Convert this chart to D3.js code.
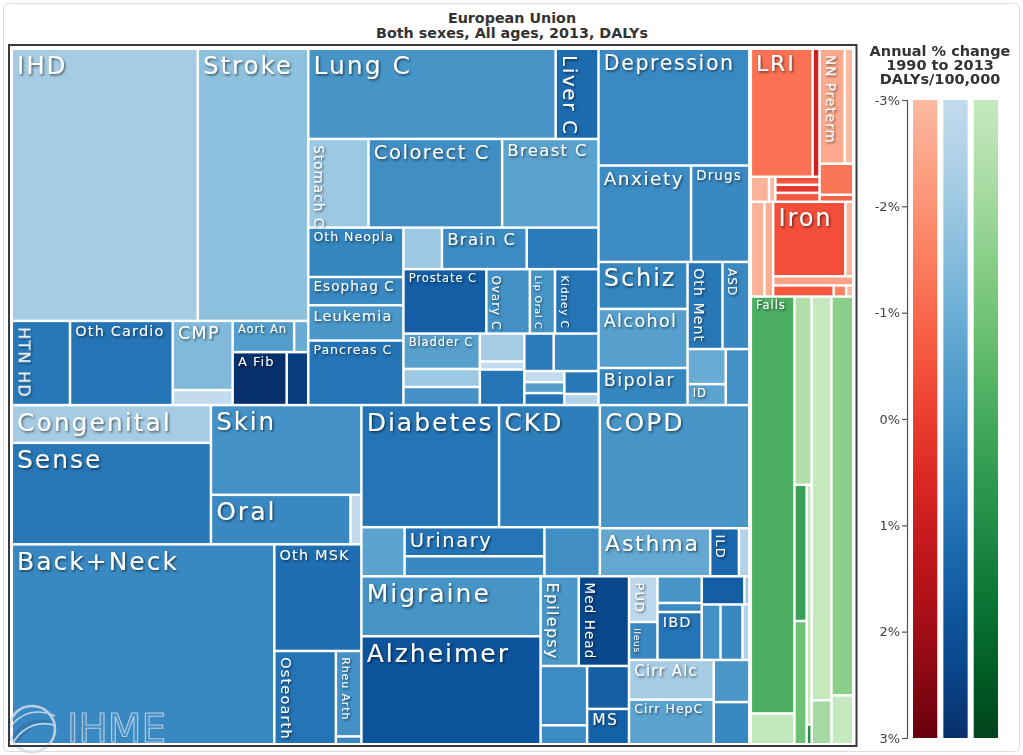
<!DOCTYPE html>
<html><head><meta charset="utf-8">
<script src="https://cdn.jsdelivr.net/npm/d3@7"></script>
<style>
html,body{margin:0;padding:0;background:#fff;}
svg{display:block;font-family:"DejaVu Sans",Verdana,sans-serif;}
</style></head><body>
<svg id="chart" width="1023" height="755"></svg>
<script>
// ---------------- DATA ----------------
// Non-communicable diseases (blue)
const ncdCauses = ["IHD","Stroke","HTN HD","Oth Cardio","CMP","Endocarditis","Aort An","Rheum HD","A Fib","PAD",
"Lung C","Liver C","Stomach C","Colorect C","Breast C","Oth Neopla","Esophag C","Leukemia","Pancreas C","Hodgkin","Brain C","NHL","Prostate C","Ovary C","Lip Oral C","Kidney C","Bladder C","Larynx C","Myeloma","Cervical C","Testic C","Uterine C","Melanoma","Thyroid C","Nasophar C","Gallbl C","Mesothel","Oth Phar C","NMSC",
"Depression","Anxiety","Drugs","Schiz","Alcohol","Bipolar","Oth Ment","ASD","Eating","ID","Conduct",
"Congenital","Sense","Skin","Oral","Oth NCD","Back+Neck","Oth MSK","Osteoarth","Rheu Arth","Gout",
"Diabetes","CKD","Gyne","Urinary","Endocrine","Hemog","COPD","Asthma","ILD","Pneumocon",
"Migraine","Alzheimer","Epilepsy","Med Head","Tension HA","Parkinson","Oth Neuro","MS",
"PUD","Ileus","Gallbladder","Pancreatitis","IBD","Oth Digest","Appendicitis","Hernia","Vasc Intest","Oth GI","Cirr Alc","Cirr HepC","Cirr HepB","Cirr Oth"];
const ncdDalys = [2530,1502,245,432,207,45,96,22,143,57,
1115,193,267,592,427,235,134,168,307,80,176,149,267,140,81,140,135,69,69,62,18,79,55,84,22,22,24,39,19,
880,446,281,209,263,165,152,117,67,40,66,
376,1010,675,345,27,2623,464,287,109,10,
840,615,106,203,140,136,920,265,69,25,
537,967,171,225,138,44,90,74,
65,54,59,20,106,60,7,52,61,19,168,189,75,75];
const ncdChange = [-2.2,-1.7,0.8,0.9,-1.4,-3,-0.4,-0.9,3.0,2.6,
-0.1,1.2,-2.0,0.1,-0.6,0.4,0.3,-0.2,0.9,-2.0,0.2,0.7,1.6,0.0,-0.1,0.9,-0.5,-2.0,0.0,-2.2,-3,0.9,0.7,0.3,-3,-0.4,0.9,0.8,-2.5,
0.25,0.2,0.3,0.4,-0.5,0.4,0.8,0.3,-0.9,-0.6,0.0,
-2.2,0.8,0.0,0.3,-3,0.3,1.1,0.9,0.0,0.3,
0.9,0.6,-0.6,0.9,0.3,0.1,-0.1,-0.8,1.3,-2.5,
-0.1,1.9,-0.2,2.3,0.2,0.2,1.6,1.5,
-2.8,0.3,-0.1,0.2,0.9,1.6,-2.0,0.0,0.3,-2.5,-2.2,-0.6,-0.2,0.3];

// Communicable, maternal, neonatal, nutritional (red)
const commCauses = ["LRI","Diarrhea","TB","HIV","Meningitis","Hepatitis","URI","NN Preterm","NN Enceph","NN Sepsis","Oth NN","Mat Hem","Oth Mat","Iron","Oth Nutr","PEM","STD","Otitis","Measles"];
const commDalys  = [400,45,23,8,18,18,20,146,50,53,12,65,42,272,30,37,34,7,4];
const commChange = [-1.2,0.8,-2.8,-3,-0.5,0.2,-0.6,-2.6,-3,-1.3,-0.9,-2.8,-2.7,-0.4,-2.9,-2.4,-0.6,-1.6,-3];

// Injuries (green)
const injCauses = ["Falls","Drowning","Poisoning","Mech Force","Oth Unint","Fire","Disaster","Road Inj","Violence","Self Harm","Exposure"];
const injDalys  = [920,68,164,84,76,61,5,404,44,440,54];
const injChange = [-0.15,-2.9,-2.4,0.3,-0.9,-3,0.9,-3,-2.1,-1.5,-3];

const legendTicks = [-3,-2,-1,0,1,2,3];
const legendFamilies = ["comm","ncd","inj"];
const titleLines = ["European Union","Both sexes, All ages, 2013, DALYs"];
const legendTitle = ["Annual % change","1990 to 2013","DALYs/100,000"];

// ---------------- NESTING (grouping of causes, sliced/diced alternately) ----------------
const nesting = [
  [
    [
      [ ["IHD","Stroke"], ["HTN HD","Oth Cardio",["CMP","Endocarditis"],[["Aort An","Rheum HD"],["A Fib","PAD"]]] ],
      [ ["Lung C","Liver C"], ["Stomach C","Colorect C","Breast C"],
        [ ["Oth Neopla","Esophag C","Leukemia","Pancreas C"],
          [ ["Hodgkin","Brain C","NHL"], ["Prostate C","Ovary C","Lip Oral C","Kidney C"],
            [ ["Bladder C","Larynx C","Myeloma"], ["Cervical C","Testic C","Uterine C"],
              [ ["Melanoma","Thyroid C"], [ ["Nasophar C","Gallbl C","Mesothel"], ["Oth Phar C","NMSC"] ] ] ] ] ] ],
      [ "Depression", ["Anxiety","Drugs"], [ ["Schiz","Alcohol","Bipolar"], [ ["Oth Ment","ASD"], [ ["Eating","ID"], "Conduct" ] ] ] ]
    ],
    [
      [ [ ["Congenital","Sense"], ["Skin", ["Oral","Oth NCD"]] ],
        [ "Back+Neck", ["Oth MSK", ["Osteoarth", ["Rheu Arth","Gout"]]] ] ],
      [ [ [ ["Diabetes","CKD"], ["Gyne", ["Urinary","Endocrine"], "Hemog"] ], [ "COPD", ["Asthma","ILD","Pneumocon"] ] ],
        [ ["Migraine","Alzheimer"], [ ["Epilepsy","Med Head"], [ ["Tension HA","Parkinson"], ["Oth Neuro","MS"] ] ],
          [ [ ["PUD","Ileus"], ["Gallbladder","Pancreatitis","IBD"], [ ["Oth Digest","Appendicitis"], ["Hernia","Vasc Intest","Oth GI"] ] ],
            [ ["Cirr Alc","Cirr HepC"], ["Cirr HepB","Cirr Oth"] ] ] ] ]
    ]
  ],
  [
    [ [ ["LRI","Diarrhea"], ["TB","HIV",["Meningitis","Hepatitis","URI"]] ], [ ["NN Preterm","NN Enceph"], "NN Sepsis", "Oth NN" ] ],
    [ "Mat Hem", "Oth Mat", [ ["Iron","Oth Nutr"], "PEM", ["STD","Otitis","Measles"] ] ],
    [ ["Falls","Drowning"], ["Poisoning", [ ["Mech Force","Oth Unint"], ["Fire","Disaster"] ] ], ["Road Inj","Violence"], ["Self Harm","Exposure"] ]
  ]
];

// ---------------- LABEL STYLE ----------------
const labelSize = {
  "IHD":24.5,"Stroke":24.5,"HTN HD":16,"Oth Cardio":14.5,"CMP":17.5,"Aort An":11.5,"A Fib":13,
  "Lung C":25,"Liver C":20,"Stomach C":13.5,"Colorect C":19.5,"Breast C":16.5,"Oth Neopla":12.5,"Brain C":16.5,
  "Esophag C":13.5,"Leukemia":14.5,"Pancreas C":12.5,"Prostate C":11.5,"Ovary C":12,"Lip Oral C":9.5,"Kidney C":10.5,"Bladder C":11.5,
  "Depression":20.5,"Anxiety":18.5,"Drugs":13.5,"Schiz":24,"Alcohol":17.5,"Bipolar":17.5,"Oth Ment":14,"ASD":12,"ID":11.5,
  "LRI":22,"NN Preterm":13.5,"Iron":24,"Falls":11.5,
  "Congenital":25,"Sense":25,"Skin":24.5,"Oral":25,"Back+Neck":25,"Oth MSK":14.5,"Osteoarth":14.5,"Rheu Arth":11,
  "Diabetes":25,"CKD":25,"COPD":25,"Urinary":19.5,"Asthma":22,"ILD":13,
  "Migraine":25,"Alzheimer":25,"Epilepsy":16,"Med Head":13.5,"MS":15.5,"PUD":13,"Ileus":9,"IBD":14.5,"Cirr Alc":15,"Cirr HepC":12.5
};
const verticalLabels = new Set(["HTN HD","Liver C","Stomach C","Ovary C","Lip Oral C","Kidney C","Oth Ment","ASD",
  "NN Preterm","Osteoarth","Rheu Arth","ILD","Epilepsy","Med Head","PUD","Ileus"]);

// ---------------- BUILD ----------------
const info = new Map();
function addFamily(fam, names, vals, chg){ names.forEach((n,i)=>info.set(n,{family:fam,value:vals[i],change:chg[i]})); }
addFamily("ncd", ncdCauses, ncdDalys, ncdChange);
addFamily("comm", commCauses, commDalys, commChange);
addFamily("inj", injCauses, injDalys, injChange);

const interp = {ncd:d3.interpolateBlues, comm:d3.interpolateReds, inj:d3.interpolateGreens};
const tScale = d3.scaleLinear().domain([-3,3]).range([0.25,1]).clamp(true);
const colorOf = name => { const c = info.get(name); return interp[c.family](tScale(c.change)); };

const svg = d3.select("#chart");
const defs = svg.append("defs");
const flt = defs.append("filter").attr("id","shadow").attr("x","-5%").attr("y","-5%").attr("width","110%").attr("height","110%");
flt.append("feDropShadow").attr("dx",1.2).attr("dy",1.4).attr("stdDeviation",1.1)
   .attr("flood-color","#000").attr("flood-opacity",0.6);

// outer light border
svg.append("rect").attr("x",3.5).attr("y",3.5).attr("width",1016).attr("height",748).attr("rx",5)
  .attr("fill","none").attr("stroke","#dcdcdc");

// title
svg.append("g").selectAll("text").data(titleLines).join("text")
  .attr("x",512).attr("y",(d,i)=>22.5+i*15).attr("text-anchor","middle")
  .attr("font-size",14.3).attr("font-weight","bold").attr("fill","#333").text(d=>d);

const W = 839, H = 693;
const root = d3.hierarchy(nesting, d => Array.isArray(d) ? d : null)
  .sum(d => Array.isArray(d) ? 0 : info.get(d).value);
d3.treemap().size([W,H]).tile(d3.treemapSliceDice)
  .paddingInner(d => d.depth === 0 ? 4 : 2.5)(root);

const g = svg.append("g").attr("transform","translate(13,50)");
g.selectAll("rect.cell").data(root.leaves()).join("rect").attr("class","cell")
  .attr("x",d=>d.x0).attr("y",d=>d.y0)
  .attr("width",d=>Math.max(0,d.x1-d.x0)).attr("height",d=>Math.max(0,d.y1-d.y0))
  .attr("fill",d=>colorOf(d.data));

// IHME logo (watermark)
const logo = svg.append("g").attr("opacity",0.85);
logo.append("path").attr("d","M12,737 C20,722 34,716 54,722 C40,722 28,728 18,742 Z").attr("fill","#2f6a9e").attr("opacity",0.6);
logo.append("path").attr("d","M10,728 C20,712 38,708 55,716").attr("fill","none").attr("stroke","#d5e0ea").attr("stroke-width",1.6);
logo.append("path").attr("d","M14,741 C24,726 40,720 56,726").attr("fill","none").attr("stroke","#d5e0ea").attr("stroke-width",1.6);
logo.append("circle").attr("cx",32).attr("cy",729).attr("r",23).attr("fill","none").attr("stroke","#d2dde8").attr("stroke-width",2.6);
logo.append("text").attr("x",67).attr("y",742).attr("font-size",39).attr("fill","rgba(255,255,255,0.08)")
  .attr("stroke","#cbd8e4").attr("stroke-width",1.1).text("IHME");

// labels
const lg = g.append("g").attr("filter","url(#shadow)");
root.leaves().filter(d => labelSize[d.data]).forEach(d => {
  const fs = labelSize[d.data];
  const t = lg.append("text").text(d.data).attr("font-size",fs).attr("fill","#fff")
    .attr("letter-spacing",(0.08*fs).toFixed(2)+"px");
  if (verticalLabels.has(d.data)) {
    t.attr("transform",`translate(${d.x0+2+0.22*fs},${d.y0+5}) rotate(90)`);
  } else {
    t.attr("x",d.x0+4).attr("y",d.y0+0.97*fs);
  }
});

// dark frame
svg.append("rect").attr("x",9).attr("y",45).attr("width",847.5).attr("height",701)
  .attr("fill","none").attr("stroke","#3a3a3a").attr("stroke-width",2);

// ---------------- LEGEND ----------------
svg.append("g").selectAll("text").data(legendTitle).join("text")
  .attr("x",940).attr("y",(d,i)=>56+i*14).attr("text-anchor","middle")
  .attr("font-size",14.5).attr("font-weight","bold").attr("fill","#333").text(d=>d);

const ly = d3.scaleLinear().domain([-3,3]).range([100,738]);
const lx = d3.scaleBand().domain(legendFamilies).range([913,998]).paddingInner(0.2);
legendFamilies.forEach(fam => {
  const gr = defs.append("linearGradient").attr("id","grad-"+fam).attr("x1",0).attr("y1",0).attr("x2",0).attr("y2",1);
  d3.range(0,11).forEach(i => {
    const v = -3 + 6*i/10;
    gr.append("stop").attr("offset",(i*10)+"%").attr("stop-color",interp[fam](tScale(v)));
  });
});
svg.append("g").selectAll("rect").data(legendFamilies).join("rect")
  .attr("x",d=>lx(d)).attr("y",ly(-3)).attr("width",lx.bandwidth()).attr("height",ly(3)-ly(-3))
  .attr("fill",d=>`url(#grad-${d})`);

const axis = svg.append("g").attr("transform","translate(907,0)")
  .call(d3.axisLeft(ly).tickValues(legendTicks).tickFormat(d=>d+"%").tickSize(5).tickSizeOuter(5));
axis.attr("font-family",null).attr("font-size",null);
axis.selectAll("path,line").attr("stroke","#555").attr("stroke-width",1.2);
axis.selectAll("text").attr("fill","#444").attr("font-size",13).attr("font-family","DejaVu Sans").attr("x",-7);
</script>
</body></html>
